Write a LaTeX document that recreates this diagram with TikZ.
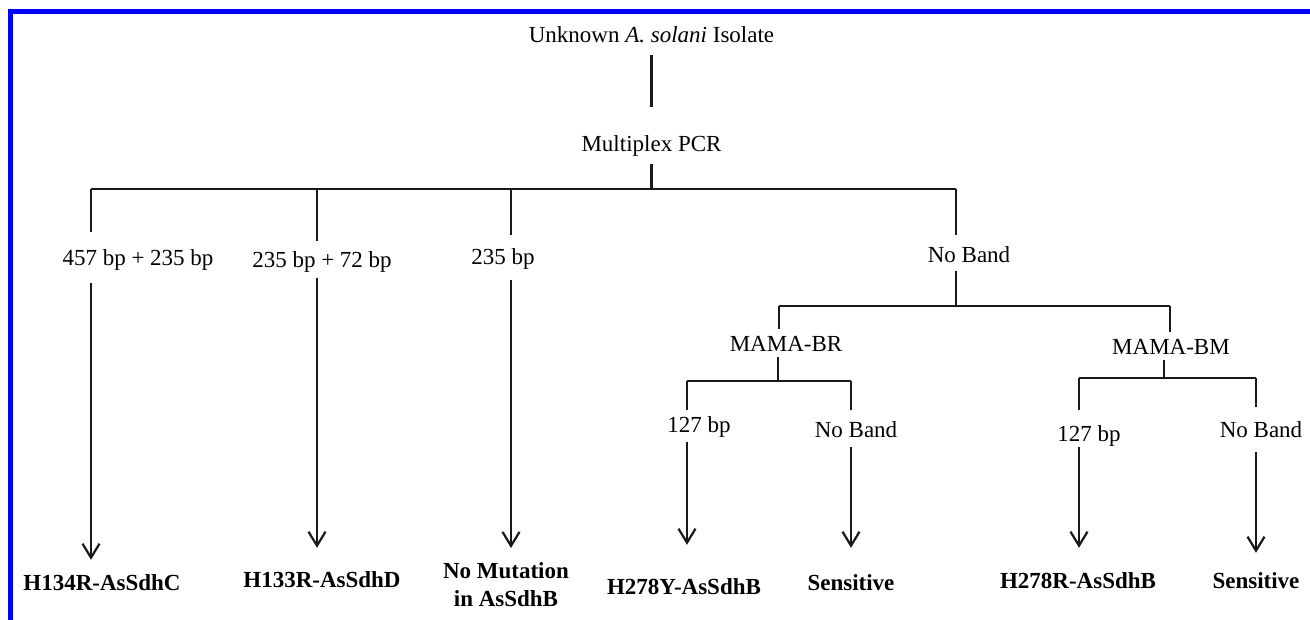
\documentclass[tikz,border=0pt]{standalone}
\usepackage{fontspec}
\setmainfont{Liberation Serif}
\usetikzlibrary{arrows.meta}
\begin{document}
\begin{tikzpicture}[x=1pt,y=-1pt,
  lbl/.style={font=\fontsize{23}{28}\selectfont, inner sep=0pt, text height=15pt, text depth=5pt, anchor=base},
  res/.style={lbl, font=\fontsize{23}{28}\selectfont\bfseries},
  res2/.style={font=\fontsize{23}{28}\selectfont\bfseries, inner sep=0pt, align=center, anchor=north},
  ln/.style={line width=2.2pt, draw=black!90},
  arr/.style={ln, -{Straight Barb[length=14pt,width=17pt]}}]
\fill[white] (0,0) rectangle (1310,620);
\useasboundingbox (0,0) rectangle (1310,620);
\draw[blue, line width=5pt, line join=miter] (10,620) -- (10,11.5) -- (1310,11.5);

% top
\node[lbl] (unk) at (651.5,43) {Unknown \textit{A. solani} Isolate};
\node[lbl] (pcr) at (651.5,152) {Multiplex PCR};
\coordinate (J0) at (651.5,189);
\draw[ln, shorten <=7pt, shorten >=30pt] (unk.south) -- (pcr.north);
\draw[ln, shorten <=7pt] (pcr.south) -- (J0);

% first level
\coordinate (J1) at (91,189);
\coordinate (J2) at (317,189);
\coordinate (J3) at (511,189);
\coordinate (J4) at (956,189);
\draw[ln] (J1) -- (J4);
\node[lbl] (l1) at (138,266) {457 bp + 235 bp};
\node[lbl] (l2) at (322,268) {235 bp + 72 bp};
\node[lbl] (l3) at (503,265) {235 bp};
\node[lbl] (l4) at (969,263) {No Band};
\draw[ln, shorten >=19pt] (J1) -- (J1 |- l1.north);
\draw[ln, shorten >=12pt] (J2) -- (J2 |- l2.north);
\draw[ln, shorten >=15pt] (J3) -- (J3 |- l3.north);
\draw[ln, shorten >=13pt] (J4) -- (J4 |- l4.north);

% results of first level
\node[res] (r1) at (102,590) {H134R-AsSdhC};
\node[res] (r2) at (322,587) {H133R-AsSdhD};
\node[res2] (r3) at (506,562) {No Mutation\\in AsSdhB};
\draw[arr, shorten <=12pt, shorten >=15pt] (l1.south -| J1) -- (r1.north -| J1);
\draw[arr, shorten <=5pt, shorten >=24pt] (l2.south -| J2) -- (r2.north -| J2);
\draw[arr, shorten <=10pt, shorten >=14pt] (l3.south -| J3) -- (r3.north -| J3);

% No Band branch
\coordinate (J5) at (956,306);
\coordinate (J6) at (779,306);
\coordinate (J7) at (1170,306);
\draw[ln, shorten <=3pt] (l4.south -| J5) -- (J5);
\draw[ln] (J6) -- (J7);
\node[lbl] (br) at (786,352) {MAMA-BR};
\node[lbl] (bm) at (1171,355) {MAMA-BM};
\draw[ln, shorten >=8pt] (J6) -- (J6 |- br.north);
\draw[ln, shorten >=8pt] (J7) -- (J7 |- bm.north);

\coordinate (J8) at (778,381);
\coordinate (J9) at (687,381);
\coordinate (J10) at (851,381);
\draw[ln] (br.south -| J8) -- (J8);
\draw[ln] (J9) -- (J10);
\coordinate (J11) at (1164,378);
\coordinate (J12) at (1079,378);
\coordinate (J13) at (1256,378);
\draw[ln] (bm.south -| J11) -- (J11);
\draw[ln] (J12) -- (J13);

\node[lbl] (a1) at (699,432) {127 bp};
\node[lbl] (b1) at (856,437) {No Band};
\node[lbl] (a2) at (1089,441) {127 bp};
\node[lbl] (b2) at (1261,438) {No Band};
\draw[ln, shorten >=7pt] (J9) -- (J9 |- a1.north);
\draw[ln, shorten >=12pt] (J10) -- (J10 |- b1.north);
\draw[ln, shorten >=16pt] (J12) -- (J12 |- a2.north);
\draw[ln, shorten >=16pt] (J13) -- (J13 |- b2.north);

\node[res] (f1) at (684,594) {H278Y-AsSdhB};
\node[res] (f2) at (851,590) {Sensitive};
\node[res] (f3) at (1078,588) {H278R-AsSdhB};
\node[res] (f4) at (1256,588) {Sensitive};
\draw[arr, shorten <=5pt, shorten >=34pt] (a1.south -| J9) -- (f1.north -| J9);
\draw[arr, shorten <=5pt, shorten >=27pt] (b1.south -| J10) -- (f2.north -| J10);
\draw[arr, shorten <=1pt, shorten >=25pt] (a2.south -| J12) -- (f3.north -| J12);
\draw[arr, shorten <=9pt, shorten >=20pt] (b2.south -| J13) -- (f4.north -| J13);
\end{tikzpicture}
\end{document}
